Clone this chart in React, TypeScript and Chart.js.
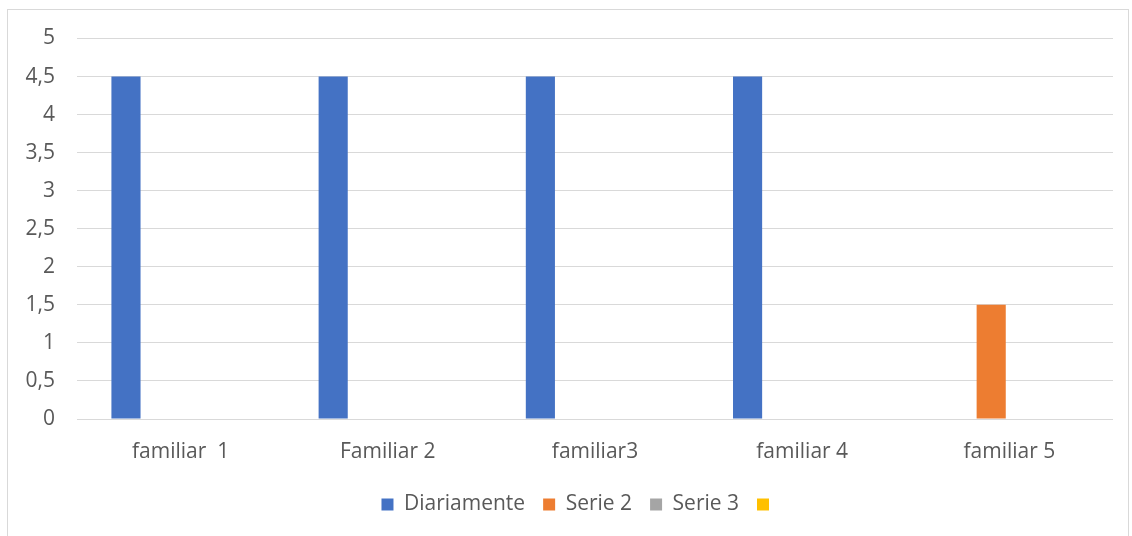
import React, { useEffect, useRef } from "react";
import { Chart, registerables } from "chart.js";

Chart.register(...registerables);

const categories = ["familiar  1", "Familiar 2", "familiar3", "familiar 4", "familiar 5"];
const seriesNames = ["Diariamente", "Serie 2", "Serie 3", ""];
const diariamente = [4.5, 4.5, 4.5, 4.5, 0];
const serie2 = [0, 0, 0, 0, 1.5];
const serie3 = [0, 0, 0, 0, 0];
const serie4 = [0, 0, 0, 0, 0];
const seriesColors = ["#4472C4", "#ED7D31", "#A5A5A5", "#FFC000"];
const yMin = 0;
const yMax = 5;
const yStep = 0.5;

const FONT = "'Open Sans', Lato, sans-serif";
const TEXT = "#595959";
const GRID = "#D9D9D9";

const legendShift = {
  id: "legendShift",
  afterLayout(chart: any) {
    if (chart.legend) {
      chart.legend.left += 14;
      chart.legend.right += 14;
    }
  },
};

export default function App() {
  const ref = useRef<HTMLCanvasElement | null>(null);

  useEffect(() => {
    document.body.style.margin = "0";
    const values = [diariamente, serie2, serie3, serie4];
    const chart = new Chart(ref.current as HTMLCanvasElement, {
      type: "bar",
      data: {
        labels: categories,
        datasets: values.map((v, i) => ({
          label: seriesNames[i],
          data: v,
          backgroundColor: seriesColors[i],
          borderWidth: 0,
          categoryPercentage: 0.703,
          barPercentage: 0.8,
        })),
      },
      plugins: [legendShift],
      options: {
        animation: false,
        responsive: false,
        maintainAspectRatio: false,
        layout: { padding: { left: 20, right: 19, top: 38.5, bottom: 11 } },
        plugins: {
          tooltip: { enabled: false },
          legend: {
            position: "bottom",
            labels: {
              boxWidth: 12,
              boxHeight: 12,
              padding: 18,
              color: TEXT,
              font: { family: FONT, size: 21 },
            },
          },
        },
        scales: {
          x: {
            grid: { display: false, drawTicks: false },
            border: { display: false },
            ticks: {
              color: TEXT,
              font: { family: FONT, size: 21 },
              padding: 20,
              maxRotation: 0,
            },
            afterFit: (s: any) => {
              s.height = 57;
            },
          },
          y: {
            min: yMin,
            max: yMax,
            grid: { color: GRID, lineWidth: 1, drawTicks: false },
            border: { display: false },
            ticks: {
              stepSize: yStep,
              color: TEXT,
              padding: 22,
              font: { family: FONT, size: 21 },
              callback: (v: any) => String(v).replace(".", ","),
            },
            afterFit: (s: any) => {
              s.width = 57;
            },
          },
        },
      },
    });
    return () => chart.destroy();
  }, []);

  return (
    <div style={{ position: "relative", width: 1132, height: 536, overflow: "hidden", background: "#fff" }}>
      <div
        style={{
          position: "absolute",
          left: 7,
          top: 9,
          width: 1122,
          height: 540,
          border: "1px solid #D9D9D9",
          boxSizing: "border-box",
        }}
      />
      <canvas ref={ref} width={1132} height={536} style={{ position: "absolute", left: 0, top: 0 }} />
    </div>
  );
}
